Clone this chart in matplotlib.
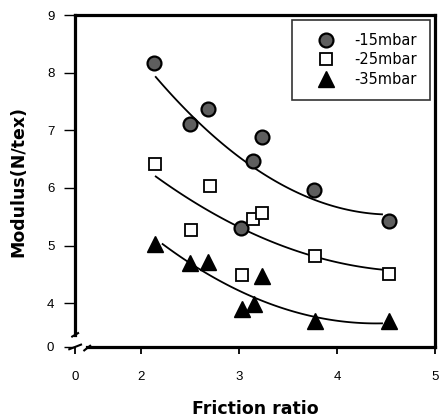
import numpy as np
import matplotlib
matplotlib.use("Agg")
import matplotlib.pyplot as plt

plt.rcParams["font.family"] = ["Liberation Sans", "DejaVu Sans"]

# 데이터
x15 = [2.13, 2.50, 2.68, 3.02, 3.14, 3.23, 3.77, 4.53]
y15 = [8.17, 7.11, 7.37, 5.30, 6.46, 6.89, 5.97, 5.43]
x25 = [2.14, 2.51, 2.70, 3.03, 3.14, 3.23, 3.78, 4.53]
y25 = [6.42, 5.27, 6.04, 4.48, 5.46, 5.56, 4.81, 4.51]
x35 = [2.14, 2.50, 2.68, 3.03, 3.15, 3.23, 3.78, 4.53]
y35 = [5.03, 4.70, 4.71, 3.90, 3.99, 4.47, 3.69, 3.69]

# 추세선 (그림에서 읽은 곡선 위의 점)
cx15 = [2.15, 2.50, 3.14, 3.77, 4.46]
cy15 = [8.02, 7.11, 6.46, 5.79, 5.53]
cx25 = [2.15, 3.02, 3.78, 4.46]
cy25 = [6.20, 5.30, 4.81, 4.58]
cx35 = [2.22, 2.50, 3.15, 3.78, 4.46]
cy35 = [5.01, 4.71, 4.12, 3.73, 3.66]

xticks = [2, 3, 4, 5]
yticks = [4, 5, 6, 7, 8, 9]
xmin, ymin = 1.327, 3.24

fig = plt.figure(figsize=(4.42, 4.19), dpi=100)
ax = fig.add_axes([0.170, 0.172, 0.814, 0.792])

for cx, cy in [(cx15, cy15), (cx25, cy25), (cx35, cy35)]:
    p = np.polyfit(cx, cy, 2)
    xx = np.linspace(cx[0], cx[-1], 100)
    ax.plot(xx, np.polyval(p, xx), color="black", lw=1.3, zorder=2)

ax.plot(x15, y15, "o", ms=10, mfc="#5e5e5e", mec="black", mew=1.6, label="-15mbar", zorder=3)
ax.plot(x25, y25, "s", ms=9, mfc="white", mec="black", mew=1.3, label="-25mbar", zorder=3)
ax.plot(x35, y35, "^", ms=11, mfc="black", mec="black", label="-35mbar", zorder=3)

ax.set_xlim(xmin, 5)
ax.set_ylim(ymin, 9)
ax.set_xticks([xmin] + xticks)
ax.set_xticklabels(["0"] + [str(t) for t in xticks])
ax.set_yticks([ymin] + yticks)
ax.set_yticklabels(["0"] + [str(t) for t in yticks])
ax.tick_params(axis="x", direction="out", length=5, width=1.3, pad=12, labelsize=9.5)
ax.tick_params(axis="y", direction="out", length=8, width=1.0, pad=7, labelsize=9.5)

for s in ax.spines.values():
    s.set_linewidth(2.3)
ax.spines["left"].set_bounds(3.45, 9)
ax.spines["bottom"].set_bounds(1.45, 5)

# 축 끊김 표시
ax.plot([xmin - 0.03, xmin + 0.03], [3.42, 3.48], color="black", lw=1.5, clip_on=False)
ax.plot([1.42, 1.48], [ymin - 0.06, ymin + 0.02], color="black", lw=1.5, clip_on=False)
ax.plot([xmin - 0.06, xmin + 0.06], [ymin - 0.04, ymin + 0.04], color="black", lw=1.5, clip_on=False)

leg = ax.legend(loc="upper right", frameon=True, fancybox=False,
                prop={"family": "DejaVu Sans", "size": 10.5},
                edgecolor="black", handlelength=2.9, handletextpad=0.5,
                borderpad=0.9, labelspacing=0.3, borderaxespad=0,
                bbox_to_anchor=(430 / 442, 1 - 20 / 419),
                bbox_transform=fig.transFigure)
leg.get_frame().set_linewidth(1.2)

ax.set_xlabel("Friction ratio", fontsize=12.5, fontweight="bold",
              family="DejaVu Sans", labelpad=12.5)
ax.set_ylabel("Modulus(N/tex)", fontsize=12.5, fontweight="bold",
              family="DejaVu Sans", labelpad=14)

fig.savefig("out.png", dpi=100)
